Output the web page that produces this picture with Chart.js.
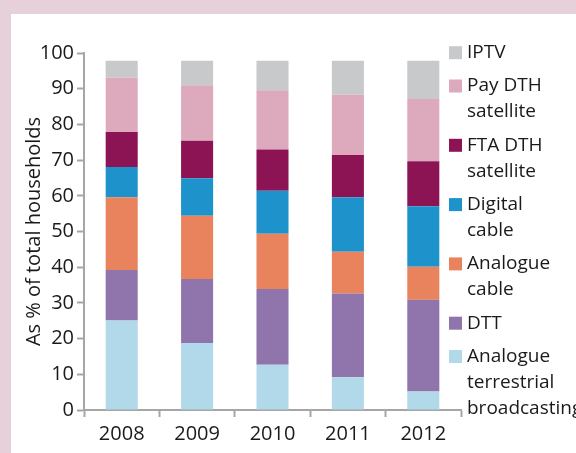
<!DOCTYPE html>
<html>
<head>
<meta charset="utf-8">
<script src="https://cdn.jsdelivr.net/npm/chart.js@4.4.1/dist/chart.umd.min.js"></script>
<style>
html, body { margin: 0; padding: 0; background: #e6d0da; }
#painel { position: absolute; left: 11px; top: 14px; width: 565px; height: 439px; background: #fff; overflow: hidden; }
canvas { display: block; }
</style>
</head>
<body>
<div id="painel"><canvas id="grafico" width="565" height="439"></canvas></div>
<script>
// anos
var anos = ["2008", "2009", "2010", "2011", "2012"];

// plataformas, de baixo para cima na pilha
var nomes = ["Analogue\nterrestrial\nbroadcasting", "DTT", "Analogue\ncable", "Digital\ncable",
             "FTA DTH\nsatellite", "Pay DTH\nsatellite", "IPTV"];
var cores = ["#b1d9ea", "#8f75ac", "#e9835e", "#1e93cb", "#8c1455", "#ddaabd", "#c8c9cb"];

// % dos domicilios
var analogico_terrestre = [25.1, 18.8, 12.7, 9.2, 5.2];
var dtt = [14.1, 17.9, 21.2, 23.4, 25.7];
var cabo_analogico = [20.4, 17.7, 15.5, 11.7, 9.2];
var cabo_digital = [8.5, 10.5, 12.0, 15.3, 17.0];
var fta_dth = [9.8, 10.5, 11.6, 11.8, 12.6];
var pay_dth = [15.2, 15.6, 16.6, 16.9, 17.4];
var iptv = [4.7, 6.8, 8.2, 9.5, 10.7];

var valores = [analogico_terrestre, dtt, cabo_analogico, cabo_digital, fta_dth, pay_dth, iptv];

var datasets = valores.map((v, i) => ({
    label: nomes[i].replace(/\n/g, " "),
    linhas: nomes[i].split("\n"),
    data: v,
    backgroundColor: cores[i],
    borderWidth: 0,
    categoryPercentage: 1,
    barPercentage: 0.425
}));

// legenda do lado direito, IPTV em cima
var legenda = {
    id: "legenda",
    afterDraw: (chart) => {
        var ctx = chart.ctx;
        var x = 438, y = 38.7;
        ctx.save();
        ctx.font = "19px 'Open Sans', sans-serif";
        ctx.textBaseline = "middle";
        chart.data.datasets.slice().reverse().forEach((ds) => {
            ctx.fillStyle = ds.backgroundColor;
            ctx.fillRect(x, y - 6.5, 13, 13);
            ctx.fillStyle = "#1a1a1a";
            ds.linhas.forEach((t, k) => {
                ctx.fillText(t, x + 18, y + k * 26);
            });
            y += (ds.linhas.length - 1) * 26 + 33.3;
        });
        ctx.restore();
    }
};

Chart.defaults.font.family = "'Open Sans', sans-serif";
Chart.defaults.font.size = 20;
Chart.defaults.color = "#1a1a1a";

var grafico = new Chart(document.getElementById("grafico"), {
    type: "bar",
    data: { labels: anos, datasets: datasets },
    plugins: [legenda],
    options: {
        responsive: false,
        animation: false,
        layout: { padding: { top: 39, right: 115, left: 0, bottom: 0 } },
        plugins: {
            legend: { display: false },
            tooltip: { enabled: false }
        },
        scales: {
            x: {
                stacked: true,
                afterFit: (s) => { s.height = 43; },
                grid: { drawOnChartArea: false, tickLength: 7, tickWidth: 2, color: "#a6a6a6", offset: true },
                border: { color: "#a6a6a6", width: 2 },
                ticks: { padding: 5 }
            },
            y: {
                stacked: true,
                min: 0,
                max: 100,
                afterFit: (s) => { s.width = 73; },
                ticks: { stepSize: 10, padding: 3 },
                grid: { drawOnChartArea: false, tickLength: 7, tickWidth: 2, color: "#a6a6a6" },
                border: { color: "#a6a6a6", width: 2 },
                title: {
                    display: true,
                    text: "As % of total households",
                    font: { size: 20 },
                    padding: { top: 11, bottom: 0 }
                }
            }
        }
    }
});
</script>
</body>
</html>
